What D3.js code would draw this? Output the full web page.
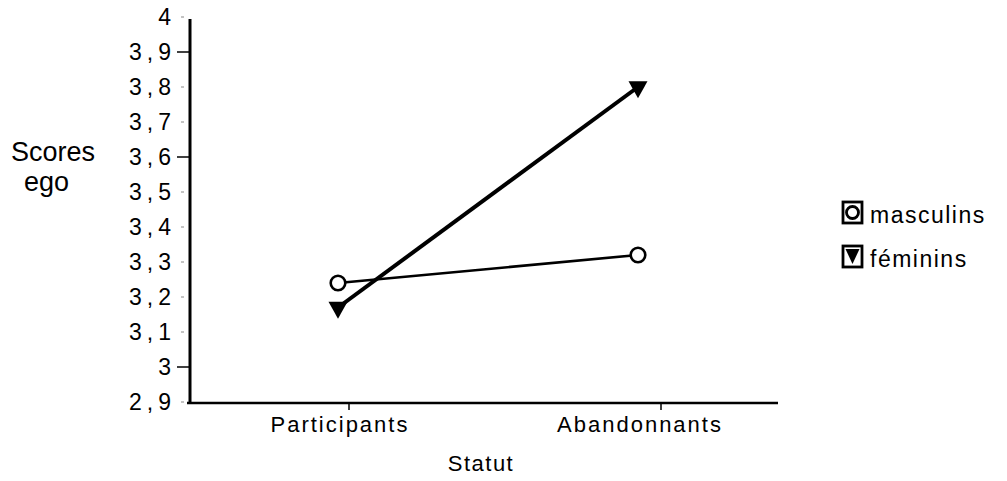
<!DOCTYPE html>
<html>
<head>
<meta charset="utf-8">
<script src="https://cdn.jsdelivr.net/npm/d3@7/dist/d3.min.js"></script>
<style>
html,body{margin:0;padding:0;background:#fff;}
svg{display:block;}
text{font-family:"Liberation Sans",Arial,Helvetica,sans-serif;fill:#000;}
</style>
</head>
<body>
<svg id="chart" width="1007" height="481"></svg>
<script>
// ---- data ----
const categories = ["Participants", "Abandonnants"];
const masculins = [3.24, 3.32];
const feminins = [3.17, 3.80];
const yTicks = [2.9, 3.0, 3.1, 3.2, 3.3, 3.4, 3.5, 3.6, 3.7, 3.8, 3.9, 4.0];
const yTickLabels = ["2,9", "3", "3,1", "3,2", "3,3", "3,4", "3,5", "3,6", "3,7", "3,8", "3,9", "4"];
const solidTicks = [3.0, 3.6, 3.9];
const seriesNames = ["masculins", "féminins"];
const yTitle = ["Scores", "ego"];
const xTitle = "Statut";

const svg = d3.select("#chart");

const y = d3.scaleLinear().domain([2.9, 4.0]).range([402, 17]);
const xMark = d3.scalePoint().domain(categories).range([338, 638]);
const xTick = d3.scalePoint().domain(categories).range([349, 661]);

const axisX = 190, axisY = 403;

// y axis ticks
const tg = svg.append("g");
yTicks.forEach((t, i) => {
  const solid = solidTicks.some(s => Math.abs(s - t) < 1e-9);
  tg.append("line")
    .attr("x1", solid ? axisX - 13 : axisX - 9).attr("x2", solid ? axisX : axisX - 6)
    .attr("y1", y(t)).attr("y2", y(t))
    .attr("stroke", solid ? "#000" : "#888")
    .attr("stroke-width", solid ? 1.5 : 1);
  tg.append("text")
    .attr("x", 176).attr("y", y(t) + 8)
    .attr("text-anchor", "end")
    .style("font-size", "23px")
    .style("letter-spacing", "5px")
    .text(yTickLabels[i]);
});

// axes lines
svg.append("line").attr("x1", axisX).attr("x2", axisX).attr("y1", y(4.0) + 2).attr("y2", axisY + 1)
  .attr("stroke", "#000").attr("stroke-width", 3);
svg.append("line").attr("x1", axisX - 3).attr("x2", 778).attr("y1", axisY).attr("y2", axisY)
  .attr("stroke", "#000").attr("stroke-width", 2.5);

// x ticks
categories.forEach(c => {
  svg.append("line").attr("x1", xTick(c)).attr("x2", xTick(c))
    .attr("y1", axisY).attr("y2", axisY + 7)
    .attr("stroke", "#000").attr("stroke-width", 1.5);
  svg.append("text")
    .attr("x", xMark(c) + 2).attr("y", 432)
    .attr("text-anchor", "middle")
    .style("font-size", "22px")
    .style("letter-spacing", "2px")
    .text(c);
});

// titles
svg.append("text").attr("x", 481).attr("y", 471).attr("text-anchor", "middle")
  .style("font-size", "22px").style("letter-spacing", "1.5px").text(xTitle);
svg.append("text").attr("x", 11).attr("y", 161).style("font-size", "27px").text(yTitle[0]);
svg.append("text").attr("x", 24).attr("y", 191).style("font-size", "27px").text(yTitle[1]);

// lines
const line = d3.line().x((d, i) => xMark(categories[i])).y(d => y(d));
svg.append("path").datum(masculins).attr("d", line)
  .attr("fill", "none").attr("stroke", "#000").attr("stroke-width", 2.6);
svg.append("path").datum(feminins).attr("d", line)
  .attr("fill", "none").attr("stroke", "#000").attr("stroke-width", 4);

// markers
const triPath = (cx, cy, w, h) => {
  const top = cy - h / 3, bot = cy + 2 * h / 3;
  return `M${cx - w / 2},${top}L${cx + w / 2},${top}L${cx},${bot}Z`;
};
masculins.forEach((v, i) => {
  svg.append("circle").attr("cx", xMark(categories[i])).attr("cy", y(v)).attr("r", 7.3)
    .attr("fill", "#fff").attr("stroke", "#000").attr("stroke-width", 2.6);
});
feminins.forEach((v, i) => {
  svg.append("path").attr("d", triPath(xMark(categories[i]), y(v), 19, 17)).attr("fill", "#000");
});

// legend
const lg = svg.append("g");
const legY = [202, 246];
seriesNames.forEach((n, i) => {
  lg.append("rect").attr("x", 843).attr("y", legY[i]).attr("width", 19).attr("height", 21)
    .attr("fill", "#fff").attr("stroke", "#000").attr("stroke-width", 2.8);
  if (i === 0) {
    lg.append("circle").attr("cx", 852.5).attr("cy", legY[i] + 10.5).attr("r", 6)
      .attr("fill", "none").attr("stroke", "#000").attr("stroke-width", 2.8);
  } else {
    lg.append("path").attr("d", triPath(852.5, legY[i] + 8, 14, 15)).attr("fill", "#000");
  }
  lg.append("text").attr("x", 870).attr("y", legY[i] + 21)
    .style("font-size", "23px").style("letter-spacing", "1.5px").text(n);
});
</script>
</body>
</html>
